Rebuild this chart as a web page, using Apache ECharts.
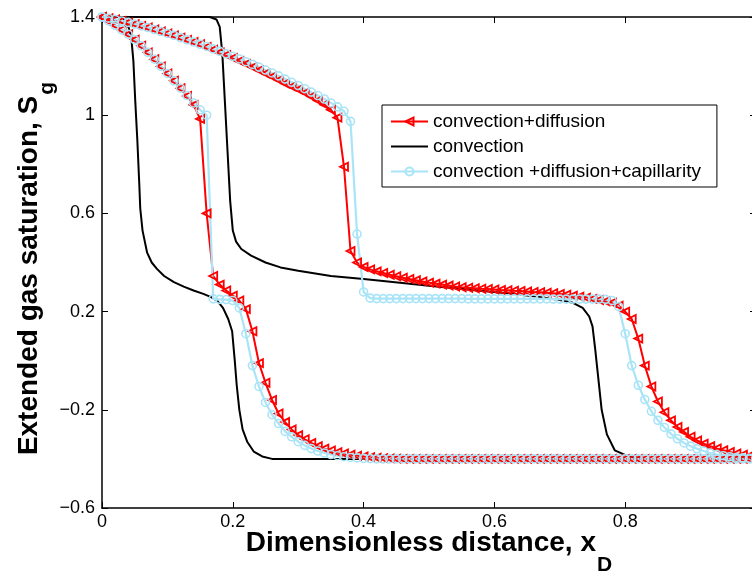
<!DOCTYPE html>
<html>
<head>
<meta charset="utf-8">
<script src="https://cdn.jsdelivr.net/npm/echarts@6/dist/echarts.min.js"></script>
<style>
  html, body { margin: 0; padding: 0; background: #fff; }
  #chart { width: 752px; height: 574px; }
</style>
</head>
<body>
<div id="chart"></div>
<script>
// ---------- data ----------
// simulation grid nodes (dx = 0.01)
const xNodes = Array.from({ length: 101 }, (_, i) => +(i * 0.01).toFixed(2));

// convection+diffusion, early time
const red1 = [
  1.400, 1.384, 1.366, 1.348, 1.330, 1.308, 1.283, 1.256, 1.228, 1.199,
  1.170, 1.140, 1.110, 1.078, 1.042, 0.985, 0.600, 0.345, 0.310, 0.286,
  0.265, 0.245, 0.210, 0.120, -0.010, -0.090, -0.160, -0.215, -0.250, -0.280,
  -0.303, -0.320, -0.335, -0.348, -0.358, -0.366, -0.373, -0.378, -0.383, -0.387,
  -0.390, -0.393, -0.395, -0.397, -0.398, -0.399, -0.400, -0.400, -0.400, -0.400,
  -0.400, -0.400, -0.400, -0.400, -0.400, -0.400, -0.400, -0.400, -0.400, -0.400,
  -0.400, -0.400, -0.400, -0.400, -0.400, -0.400, -0.400, -0.400, -0.400, -0.400,
  -0.400, -0.400, -0.400, -0.400, -0.400, -0.400, -0.400, -0.400, -0.400, -0.400,
  -0.400, -0.400, -0.400, -0.400, -0.400, -0.400, -0.400, -0.400, -0.400, -0.400,
  -0.400, -0.400, -0.400, -0.400, -0.400, -0.400, -0.400, -0.400, -0.400, -0.400,
  -0.400
];

// convection+diffusion, late time
const red2 = [
  1.400, 1.395, 1.390, 1.384, 1.378, 1.371, 1.364, 1.357, 1.349, 1.341,
  1.333, 1.325, 1.316, 1.307, 1.298, 1.289, 1.278, 1.267, 1.256, 1.245,
  1.233, 1.221, 1.209, 1.196, 1.183, 1.170, 1.157, 1.143, 1.129, 1.117,
  1.105, 1.091, 1.076, 1.060, 1.043, 1.022, 0.990, 0.790, 0.447, 0.400,
  0.382, 0.372, 0.364, 0.357, 0.350, 0.344, 0.338, 0.333, 0.328, 0.323,
  0.318, 0.314, 0.310, 0.306, 0.302, 0.299, 0.297, 0.295, 0.293, 0.292,
  0.290, 0.288, 0.287, 0.285, 0.284, 0.282, 0.280, 0.279, 0.277, 0.275,
  0.272, 0.269, 0.265, 0.261, 0.257, 0.252, 0.247, 0.242, 0.236, 0.224,
  0.200, 0.170, 0.090, -0.020, -0.105, -0.166, -0.210, -0.243, -0.270, -0.290,
  -0.310, -0.325, -0.338, -0.348, -0.357, -0.365, -0.372, -0.378, -0.383, -0.387,
  -0.390
];

// convection +diffusion+capillarity, early time
const blue1 = [
  1.400, 1.384, 1.366, 1.348, 1.330, 1.308, 1.283, 1.256, 1.228, 1.199,
  1.170, 1.140, 1.110, 1.080, 1.050, 1.022, 1.000, 0.252, 0.250, 0.249,
  0.245, 0.215, 0.110, -0.020, -0.105, -0.170, -0.220, -0.256, -0.288, -0.310,
  -0.330, -0.345, -0.358, -0.368, -0.376, -0.382, -0.387, -0.391, -0.394, -0.396,
  -0.398, -0.399, -0.400, -0.400, -0.400, -0.400, -0.400, -0.400, -0.400, -0.400,
  -0.400, -0.400, -0.400, -0.400, -0.400, -0.400, -0.400, -0.400, -0.400, -0.400,
  -0.400, -0.400, -0.400, -0.400, -0.400, -0.400, -0.400, -0.400, -0.400, -0.400,
  -0.400, -0.400, -0.400, -0.400, -0.400, -0.400, -0.400, -0.400, -0.400, -0.400,
  -0.400, -0.400, -0.400, -0.400, -0.400, -0.400, -0.400, -0.400, -0.400, -0.400,
  -0.400, -0.400, -0.400, -0.400, -0.400, -0.400, -0.400, -0.400, -0.400, -0.400,
  -0.400
];

// convection +diffusion+capillarity, late time
const blue2 = [
  1.400, 1.395, 1.390, 1.384, 1.378, 1.371, 1.364, 1.357, 1.349, 1.341,
  1.333, 1.325, 1.316, 1.307, 1.298, 1.289, 1.280, 1.270, 1.260, 1.250,
  1.240, 1.229, 1.218, 1.207, 1.196, 1.184, 1.172, 1.160, 1.147, 1.134,
  1.121, 1.108, 1.094, 1.080, 1.066, 1.050, 1.034, 1.016, 0.975, 0.516,
  0.280, 0.255, 0.253, 0.253, 0.253, 0.253, 0.253, 0.253, 0.253, 0.253,
  0.253, 0.253, 0.253, 0.253, 0.253, 0.253, 0.252, 0.252, 0.252, 0.252,
  0.252, 0.252, 0.252, 0.252, 0.252, 0.252, 0.252, 0.252, 0.252, 0.251,
  0.251, 0.251, 0.251, 0.251, 0.251, 0.251, 0.251, 0.250, 0.245, 0.220,
  0.110, -0.020, -0.100, -0.158, -0.206, -0.243, -0.272, -0.298, -0.318, -0.335,
  -0.348, -0.359, -0.368, -0.376, -0.382, -0.387, -0.391, -0.394, -0.396, -0.398,
  -0.399
];

// convection (pure), early time
const black1X = [0, 0.03, 0.036, 0.041, 0.045, 0.048, 0.051, 0.054, 0.057, 0.0585,
  0.062, 0.069, 0.076, 0.084, 0.095, 0.11, 0.125, 0.14, 0.155, 0.166,
  0.176, 0.185, 0.193, 0.199, 0.203, 0.206, 0.21, 0.215, 0.222, 0.232,
  0.245, 0.26, 1];
const black1Y = [1.4, 1.4, 1.385, 1.355, 1.31, 1.22, 1.05, 0.9, 0.72, 0.62,
  0.53, 0.44, 0.40, 0.374, 0.345, 0.32, 0.302, 0.286, 0.272, 0.26,
  0.245, 0.215, 0.17, 0.12, 0.0, -0.1, -0.2, -0.28, -0.33, -0.37,
  -0.39, -0.4, -0.4];

// convection (pure), late time
const black2X = [0, 0.165, 0.175, 0.18, 0.184, 0.188, 0.192, 0.196, 0.2, 0.205,
  0.213, 0.228, 0.25, 0.273, 0.3, 0.35, 0.4, 0.426, 0.5, 0.574,
  0.62, 0.66, 0.7, 0.72, 0.735, 0.745, 0.75, 0.754, 0.758, 0.764,
  0.772, 0.784, 0.805, 0.83, 1];
const black2Y = [1.4, 1.4, 1.39, 1.36, 1.25, 1.05, 0.85, 0.65, 0.53, 0.485,
  0.455, 0.428, 0.40, 0.38, 0.366, 0.345, 0.333, 0.326, 0.305, 0.286,
  0.275, 0.263, 0.247, 0.236, 0.215, 0.18, 0.14, 0.05, -0.05, -0.2,
  -0.3, -0.365, -0.39, -0.4, -0.4];

const xTicks = [0, 0.2, 0.4, 0.6, 0.8, 1];
const yTicks = [-0.6, -0.2, 0.2, 0.6, 1, 1.4];

const seriesNames = ['convection+diffusion', 'convection', 'convection +diffusion+capillarity'];

// ---------- chart ----------
const FONT = "'Liberation Sans', Arial, Helvetica, sans-serif";
const RED = '#ff0000';
const BLUE = '#a9e4f7';
const pair = (xs, ys) => xs.map((x, i) => [x, ys[i]]);

const chart = echarts.init(document.getElementById('chart'), null, { renderer: 'canvas' });

const fmtY = v => {
  const s = String(+v.toFixed(2));
  return s.replace('-', '\u2212');
};

const axisLineStyle = { show: true, onZero: false, lineStyle: { color: '#000', width: 1.5 } };
const tickStyle = (custom) => Object.assign(
  { show: true, inside: true, length: 6, lineStyle: { color: '#000', width: 1 } },
  custom ? { customValues: custom } : {}
);

const redSeries = (data) => ({
  name: seriesNames[0], type: 'line', data,
  symbol: 'triangle', symbolRotate: 90, symbolSize: 8,
  showAllSymbol: true,
  lineStyle: { color: RED, width: 2 },
  itemStyle: { color: 'rgba(255,0,0,0)', borderColor: RED, borderWidth: 1.8 },
  emphasis: { disabled: true }
});
const blueSeries = (data) => ({
  name: seriesNames[2], type: 'line', data,
  symbol: 'circle', symbolSize: 8,
  showAllSymbol: true,
  lineStyle: { color: BLUE, width: 2.2 },
  itemStyle: { color: 'rgba(0,0,0,0)', borderColor: BLUE, borderWidth: 1.6 },
  emphasis: { disabled: true }
});
const blackSeries = (data) => ({
  name: seriesNames[1], type: 'line', data,
  symbol: 'none',
  lineStyle: { color: '#000', width: 2 },
  itemStyle: { color: '#000' },
  emphasis: { disabled: true }
});

chart.setOption({
  animation: false,
  backgroundColor: '#fff',
  textStyle: { fontFamily: FONT },
  grid: { left: 102, top: 17, width: 654, height: 491, containLabel: false, outerBoundsMode: 'none' },
  legend: {
    orient: 'vertical',
    left: 382, top: 105,
    data: [
      { name: seriesNames[0] },
      { name: seriesNames[1], icon: 'path://M0,0 L37,0 L37,2 L0,2 Z' },
      { name: seriesNames[2] }
    ],
    itemWidth: 37, itemHeight: 10, itemGap: 6,
    padding: [7, 16, 6, 8],
    backgroundColor: '#fff',
    borderColor: '#000', borderWidth: 1,
    textStyle: { fontFamily: FONT, fontSize: 19, color: '#000', lineHeight: 19 },
    selectedMode: false
  },
  xAxis: [
    {
      type: 'value', min: 0, max: 1, interval: 0.2, position: 'bottom',
      axisLine: axisLineStyle, axisTick: tickStyle(), splitLine: { show: false },
      axisLabel: { show: true, color: '#000', fontSize: 18, fontFamily: FONT, margin: 5, showMaxLabel: false },
      name: '{a|Dimensionless distance, x}{b|D}',
      nameLocation: 'middle', nameGap: 21, nameMoveOverlap: false,
      nameTextStyle: {
        rich: {
          a: { fontFamily: FONT, fontSize: 28, fontWeight: 'bold', color: '#000', lineHeight: 32, verticalAlign: 'top' },
          b: { fontFamily: FONT, fontSize: 21, fontWeight: 'bold', color: '#000', lineHeight: 22, padding: [26, 0, 0, 1], verticalAlign: 'top' }
        }
      }
    },
    {
      type: 'value', min: 0, max: 1, interval: 0.2, position: 'top',
      axisLine: axisLineStyle, axisTick: tickStyle(), splitLine: { show: false },
      axisLabel: { show: false }
    }
  ],
  yAxis: [
    {
      type: 'value', min: -0.6, max: 1.4, position: 'left',
      axisLine: axisLineStyle, axisTick: tickStyle(yTicks), splitLine: { show: false },
      axisLabel: { show: true, color: '#000', fontSize: 18, fontFamily: FONT, margin: 7, customValues: yTicks, formatter: fmtY },
      name: '{a|Extended gas saturation, S}{b|g}',
      nameLocation: 'middle', nameGap: 55, nameMoveOverlap: false,
      nameTextStyle: {
        rich: {
          a: { fontFamily: FONT, fontSize: 28, fontWeight: 'bold', color: '#000', lineHeight: 32, verticalAlign: 'top' },
          b: { fontFamily: FONT, fontSize: 21, fontWeight: 'bold', color: '#000', lineHeight: 22, padding: [22, 12, 0, 1], verticalAlign: 'top' }
        }
      }
    },
    {
      type: 'value', min: -0.6, max: 1.4, position: 'right',
      axisLine: axisLineStyle, axisTick: tickStyle(yTicks), splitLine: { show: false },
      axisLabel: { show: false }
    }
  ],
  series: [
    redSeries(pair(xNodes, red1)),
    redSeries(pair(xNodes, red2)),
    blackSeries(pair(black1X, black1Y)),
    blackSeries(pair(black2X, black2Y)),
    blueSeries(pair(xNodes, blue1)),
    blueSeries(pair(xNodes, blue2))
  ]
});
</script>
</body>
</html>
